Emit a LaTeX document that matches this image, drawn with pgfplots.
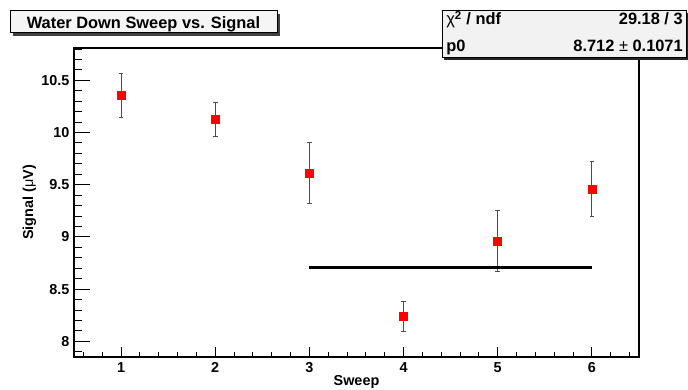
\documentclass[border=0pt]{standalone}
\usepackage{fontspec}
\setmainfont{Liberation Sans}
\usepackage{pgfplots}
\usepackage{pgfplotstable}
\pgfplotsset{compat=1.18}
\pgfplotstableread{
x y e
1 10.356 0.212
2 10.126 0.160
3 9.610 0.293
4 8.237 0.140
5 8.958 0.293
6 9.460 0.266
}\datatable
\begin{document}
\begin{tikzpicture}
\useasboundingbox (0,0) rectangle (516pt,291.75pt);
\begin{axis}[
  at={(55.5pt,24pt)}, anchor=south west,
  width=423.75pt, height=231.75pt, scale only axis,
  xmin=0.5, xmax=6.5, ymin=7.85, ymax=10.81,
  xtick={1,2,3,4,5,6}, ytick={8,8.5,9,9.5,10,10.5},
  minor xtick={0.6,0.8,1.2,1.4,1.6,1.8,2.2,2.4,2.6,2.8,3.2,3.4,3.6,3.8,4.2,4.4,4.6,4.8,5.2,5.4,5.6,5.8,6.2,6.4},
  minor ytick={7.9,8.1,8.2,8.3,8.4,8.6,8.7,8.8,8.9,9.1,9.2,9.3,9.4,9.6,9.7,9.8,9.9,10.1,10.2,10.3,10.4,10.6,10.7,10.8},
  xtick pos=bottom, ytick pos=left, tick align=inside,
  xtick style={/pgfplots/major tick length=7.5pt, /pgfplots/minor tick length=3.75pt, black, line width=0.75pt},
  ytick style={/pgfplots/major tick length=12pt, /pgfplots/minor tick length=6pt, black, line width=0.75pt},
  axis line style={line width=0.8pt},
  /pgf/number format/assume math mode=true,
  ticklabel style={font=\fontsize{10.8}{12}\selectfont\bfseries},
  xticklabel style={yshift=-0.5pt},
  xlabel={Sweep},
  ylabel={Signal ({\mdseries μ}V)},
  label style={font=\fontsize{10.8}{12}\selectfont\bfseries},
  xlabel style={at={([yshift=-21pt]axis description cs:0.5,0)}, anchor=base},
  ylabel style={at={([xshift=-30.75pt]axis description cs:0,0.5)}, anchor=base, rotate=0},
  clip=false,
]
\addplot[only marks, mark=square*, mark size=3pt, color=red, mark options={fill=red, draw=none},
  error bars/.cd, y dir=both, y explicit,
  error bar style={black!70, line width=0.75pt},
  error mark options={rotate=90, mark size=1.8pt, black!70, line width=0.75pt}]
  table[x=x, y=y, y error=e] {\datatable};
\addplot[black, line width=2.25pt, no marks] coordinates {(3,8.712) (6,8.712)};
\end{axis}
% title box
\fill[black!75] (9.4pt,265.1pt) rectangle (209.65pt,281.6pt);
\draw[fill=black!4, line width=0.75pt] (7.5pt,267pt) rectangle (207.75pt,283.5pt);
\node[anchor=base, inner sep=0pt, font=\fontsize{12.3}{14}\selectfont\bfseries] at (107.6pt,270.5pt) {Water Down Sweep vs. Signal};
% stats box
\fill[black!85] (333pt,246.5pt) rectangle (516pt,282pt);
\draw[fill=black!5, line width=0.75pt] (331.5pt,248.25pt) rectangle (514.5pt,283.5pt);
\begin{scope}[every node/.style={inner sep=0pt, font=\fontsize{12.3}{14}\selectfont\bfseries}]
\node[anchor=base west] at (334.5pt,273pt) {{\mdseries χ}\textsuperscript{2} / ndf};
\node[anchor=base east] at (512.25pt,273pt) {29.18 / 3};
\node[anchor=base west] at (334.5pt,252.75pt) {p0};
\node[anchor=base east] at (512.25pt,252.75pt) {8.712 {\mdseries ±} 0.1071};
\end{scope}
\end{tikzpicture}
\end{document}
